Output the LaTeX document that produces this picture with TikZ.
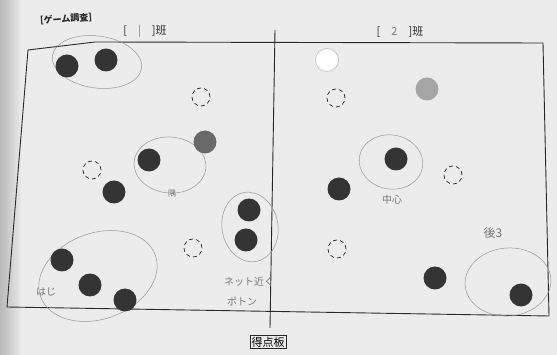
\documentclass[tikz,border=0pt]{standalone}
\usepackage{fontspec}
\newfontfamily\cjk{Noto Sans CJK JP}
\usetikzlibrary{shapes.geometric}
\definecolor{paper}{RGB}{236,236,236}
\definecolor{ink}{RGB}{40,40,40}
\definecolor{pencil}{RGB}{150,150,150}
\definecolor{dot}{RGB}{52,52,52}
\definecolor{graydot}{RGB}{105,105,105}
\definecolor{lightdot}{RGB}{165,165,165}
\tikzset{
  ball/.style={circle,fill=dot,draw=none,minimum size=23pt,inner sep=0pt},
  grayball/.style={ball,fill=graydot},
  lightball/.style={ball,fill=lightdot},
  whiteball/.style={ball,fill=white,draw=pencil!70,line width=0.5pt},
  spot/.style={circle,draw=ink,dash pattern=on 4pt off 3pt,line width=0.7pt,minimum size=18pt,inner sep=0pt},
  group/.style={ellipse,draw=pencil,line width=0.5pt,inner sep=0pt},
  hand/.style={text=pencil!80!black,font=\cjk\fontsize{10}{11}\selectfont,inner sep=0pt},
  court/.style={draw=ink,line width=0.9pt},
  label/.style={font=\cjk\fontsize{11}{12}\selectfont,text=ink,inner sep=0pt}
}
\begin{document}
\begin{tikzpicture}[x=1pt,y=-1pt]
\useasboundingbox (0,0) rectangle (557,355);
\fill[paper] (0,0) rectangle (557,355);
\shade[left color=gray!55,right color=paper] (0,0) rectangle (22,355);
% court
\draw[court] (28,50) -- (95,42) -- (543,43) -- (549,316) -- (7,307) -- cycle;
\coordinate (ntop) at (275,30);
\coordinate (nbot) at (270,328);
\draw[ink,line width=0.9pt] (ntop) -- (nbot);
\node[draw=ink,line width=0.6pt,font=\cjk\fontsize{11}{12}\selectfont,inner sep=1.5pt] (board) at (268,342) {得点板};
% titles
\node[label,font=\cjk\bfseries\fontsize{9}{10}\selectfont,rotate=4] (title) at (66,19) {[ゲーム調査]};
\node[label] (team1) at (145,31) {[\quad\textcolor{gray}{|}\quad]班};
\node[label] (team2) at (400,32) {[\quad\textcolor{gray}{2}\quad]班};
% groups (ellipses)
\node[group,minimum width=90pt,minimum height=52pt,rotate=-8] (g1) at (97,62) {};
\node[group,minimum width=72pt,minimum height=56pt,rotate=-5] (g2) at (170,165) {};
\node[group,minimum width=56pt,minimum height=70pt,rotate=10] (g3) at (250,227) {};
\node[group,minimum width=122pt,minimum height=86pt,rotate=20] (g4) at (98,276) {};
\node[group,minimum width=64pt,minimum height=54pt,rotate=-10] (g5) at (391,162) {};
\node[group,minimum width=86pt,minimum height=68pt,rotate=5] (g6) at (508,282) {};
% left team
\node[ball] (a1) at (67,66) {};
\node[ball] (a2) at (106,60) {};
\node[spot] (s1) at (201,97) {};
\node[grayball] (a3) at (205,142) {};
\node[ball] (a4) at (149,160) {};
\node[spot] (s2) at (92,170) {};
\node[ball] (a5) at (114,192) {};
\node[ball] (a6) at (249,210) {};
\node[ball] (a7) at (246,240) {};
\node[spot] (s3) at (193,248) {};
\node[ball] (a8) at (62,260) {};
\node[ball] (a9) at (90,285) {};
\node[ball] (a10) at (125,300) {};
% right team
\node[whiteball] (b1) at (327,60) {};
\node[spot] (s4) at (336,98) {};
\node[lightball] (b2) at (427,89) {};
\node[ball] (b3) at (396,159) {};
\node[spot] (s5) at (453,175) {};
\node[ball] (b4) at (339,189) {};
\node[spot] (s6) at (337,249) {};
\node[ball] (b5) at (435,278) {};
\node[ball] (b6) at (521,295) {};
% handwriting
\node[hand,font=\cjk\fontsize{8}{9}\selectfont] (h1) at (172,194) {隅};
\node[hand] (h2) at (46,292) {はじ};
\node[hand] (h3) at (249,282) {ネット近く};
\node[hand] (h4) at (242,301) {ポトン};
\node[hand] (h5) at (392,200) {中心};
\node[hand,font=\cjk\fontsize{12}{13}\selectfont] (h6) at (493,233) {後3};
\end{tikzpicture}
\end{document}
